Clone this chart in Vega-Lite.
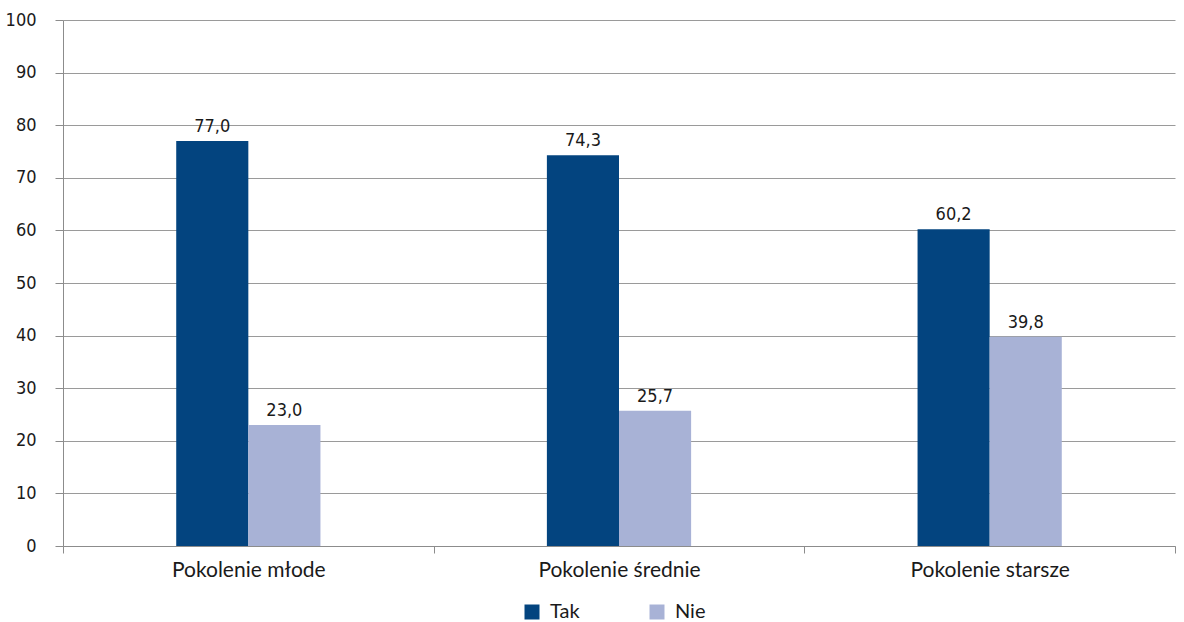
{
  "$schema": "https://vega.github.io/schema/vega-lite/v6.json",
  "width": 1112,
  "height": 526,
  "autosize": {"type": "none"},
  "padding": {"left": 63, "top": 20, "right": 9, "bottom": 76},
  "background": "white",
  "data": {
    "values": [
      {"pokolenie": "Pokolenie młode", "odpowiedz": "Tak", "procent": 77.0},
      {"pokolenie": "Pokolenie młode", "odpowiedz": "Nie", "procent": 23.0},
      {"pokolenie": "Pokolenie średnie", "odpowiedz": "Tak", "procent": 74.3},
      {"pokolenie": "Pokolenie średnie", "odpowiedz": "Nie", "procent": 25.7},
      {"pokolenie": "Pokolenie starsze", "odpowiedz": "Tak", "procent": 60.2},
      {"pokolenie": "Pokolenie starsze", "odpowiedz": "Nie", "procent": 39.8}
    ]
  },
  "encoding": {
    "x": {
      "field": "pokolenie",
      "type": "nominal",
      "sort": null,
      "title": null,
      "scale": {"paddingInner": 0, "paddingOuter": 0},
      "axis": {
        "labelAngle": 0,
        "labelFont": "Lato",
        "labelFontSize": 21,
        "labelColor": "#1a1a1a",
        "labelPadding": 6,
        "tickBand": "extent",
        "tickSize": 7,
        "tickColor": "#8c8c8c",
        "domainColor": "#8c8c8c",
        "grid": false
      }
    },
    "xOffset": {
      "field": "odpowiedz",
      "type": "nominal",
      "scale": {"domain": ["_lewy", "Tak", "Nie", "_prawy"], "paddingInner": 0, "paddingOuter": 0.57}
    },
    "y": {
      "field": "procent",
      "type": "quantitative",
      "title": null,
      "scale": {"domain": [0, 100], "nice": false},
      "axis": {
        "values": [0, 10, 20, 30, 40, 50, 60, 70, 80, 90, 100],
        "labelFont": "Liberation Sans Narrow, DejaVu Sans Condensed, Roboto",
        "labelFontSize": 18,
        "labelColor": "#1a1a1a",
        "labelPadding": 19,
        "tickSize": 8,
        "tickColor": "#8c8c8c",
        "domainColor": "#8c8c8c",
        "gridColor": "#9a9a9a",
        "gridWidth": 1
      }
    }
  },
  "layer": [
    {
      "mark": {"type": "bar"},
      "encoding": {
        "color": {
          "field": "odpowiedz",
          "type": "nominal",
          "title": null,
          "scale": {"domain": ["Tak", "Nie"], "range": ["#03447f", "#a8b2d6"]},
          "legend": {
            "orient": "none",
            "legendX": 459,
            "legendY": 582,
            "direction": "horizontal",
            "symbolType": "square",
            "symbolSize": 225,
            "symbolOpacity": 1,
            "symbolStrokeWidth": 0,
            "labelFont": "Lato",
            "labelFontSize": 20,
            "labelColor": "#1a1a1a",
            "labelOffset": 8,
            "columnPadding": 67
          }
        }
      }
    },
    {
      "mark": {
        "type": "text",
        "baseline": "alphabetic",
        "dy": -9,
        "font": "Liberation Sans Narrow, DejaVu Sans Condensed, Roboto",
        "fontSize": 18,
        "color": "#1a1a1a"
      },
      "encoding": {
        "text": {"field": "procent", "type": "quantitative", "format": ".1f"}
      }
    }
  ],
  "config": {
    "view": {"stroke": null},
    "locale": {
      "number": {
        "decimal": ",",
        "thousands": " ",
        "grouping": [3],
        "currency": ["", " zł"]
      }
    }
  }
}
